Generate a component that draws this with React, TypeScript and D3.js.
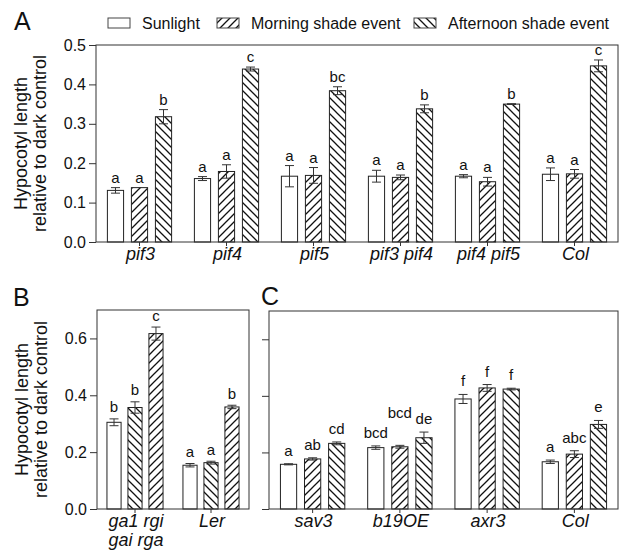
import * as React from 'react';
import * as d3 from 'd3';

const seriesNames = ["Sunlight", "Morning shade event", "Afternoon shade event"];

// panel A
const genotypesA = ["pif3", "pif4", "pif5", "pif3 pif4", "pif4 pif5", "Col"];
const sunlightA = [0.131, 0.161, 0.167, 0.167, 0.167, 0.172];
const sunlightErrA = [0.007, 0.005, 0.027, 0.015, 0.004, 0.016];
const morningA = [0.138, 0.179, 0.169, 0.164, 0.153, 0.173];
const morningErrA = [0.0, 0.017, 0.02, 0.006, 0.011, 0.011];
const afternoonA = [0.318, 0.439, 0.384, 0.338, 0.350, 0.447];
const afternoonErrA = [0.018, 0.005, 0.01, 0.01, 0.001, 0.015];
const lettersA = [["a", "a", "b"], ["a", "a", "c"], ["a", "a", "bc"], ["a", "a", "b"], ["a", "a", "b"], ["a", "a", "c"]];
const ticksA = [0, 0.1, 0.2, 0.3, 0.4, 0.5];

// panel B
const genotypesB = ["ga1 rgi\ngai rga", "Ler"];
const sunlightB = [0.305, 0.154];
const sunlightErrB = [0.012, 0.006];
const morningB = [0.357, 0.163];
const morningErrB = [0.02, 0.005];
const afternoonB = [0.617, 0.359];
const afternoonErrB = [0.023, 0.006];
const lettersB = [["b", "b", "c"], ["a", "a", "b"]];
const ticksB = [0, 0.2, 0.4, 0.6];

// panel C
const genotypesC = ["sav3", "b19OE", "axr3", "Col"];
const sunlightC = [0.158, 0.217, 0.389, 0.167];
const sunlightErrC = [0.002, 0.006, 0.016, 0.006];
const morningC = [0.177, 0.220, 0.428, 0.194];
const morningErrC = [0.004, 0.005, 0.012, 0.012];
const afternoonC = [0.232, 0.252, 0.424, 0.299];
const afternoonErrC = [0.005, 0.02, 0.003, 0.014];
const lettersC = [["a", "ab", "cd"], ["bcd", "bcd", "de"], ["f", "f", "f"], ["a", "abc", "e"]];

const FONT = "'Liberation Sans', Arial, Helvetica, sans-serif";
const INK = "#222";

function drawPanel(svg, o) {
  const g = svg.append("g");
  const x = d3.scaleBand().domain(o.groups).range([o.left, o.right]).padding(0);
  const y = d3.scaleLinear().domain([0, o.yMax]).range([o.bottom, o.top]);
  const bw = x.bandwidth();
  const step = bw * 0.276;
  const barW = bw * 0.186;

  // bars + error bars
  o.series.forEach((s, si) => {
    o.groups.forEach((grp, gi) => {
      const cx = x(grp) + bw / 2 + (si - 1) * step;
      const v = s.values[gi];
      const e = s.errs[gi];
      g.append("rect")
        .attr("x", cx - barW / 2)
        .attr("y", y(v))
        .attr("width", barW)
        .attr("height", y(0) - y(v))
        .attr("fill", o.fills[si])
        .attr("stroke", INK)
        .attr("stroke-width", 1);
      if (e > 0) {
        g.append("path")
          .attr("d", `M${cx - 4.5},${y(v + e)}H${cx + 4.5}M${cx},${y(v + e)}V${y(v - e)}M${cx - 4.5},${y(v - e)}H${cx + 4.5}`)
          .attr("stroke", "#333")
          .attr("fill", "none")
          .attr("stroke-width", 1);
      }
    });
  });

  // significance letters, nudged up when they collide
  o.groups.forEach((grp, gi) => {
    let prev = null;
    o.series.forEach((s, si) => {
      const cx = x(grp) + bw / 2 + (si - 1) * step;
      const txt = o.letters[gi][si];
      const w = txt.length * 7.6;
      let ly = y(s.values[gi] + s.errs[gi]) - o.gap;
      if (prev && prev.cx + prev.w / 2 + 2 > cx - w / 2 && Math.abs(prev.y - ly) < 14) {
        ly = prev.y - 20;
      }
      g.append("text")
        .attr("x", cx)
        .attr("y", ly)
        .attr("text-anchor", "middle")
        .style("font-family", FONT)
        .style("font-size", "15px")
        .style("fill", "#111")
        .text(txt);
      prev = { cx, w, y: ly };
    });
  });

  // frame
  g.append("rect")
    .attr("x", o.left).attr("y", o.top)
    .attr("width", o.right - o.left).attr("height", o.bottom - o.top)
    .attr("fill", "none").attr("stroke", "#333").attr("stroke-width", 1);

  // y axis
  const ya = g.append("g")
    .attr("transform", `translate(${o.left},0)`)
    .call(d3.axisLeft(y).tickValues(o.ticks).tickSize(7).tickPadding(3)
      .tickFormat(o.showLabels ? d3.format(".1f") : () => ""));
  ya.select(".domain").remove();
  ya.selectAll("line").attr("stroke", "#333");
  ya.selectAll("text").style("font-family", FONT).style("font-size", "16px").style("fill", "#111");

  // x ticks + category labels
  o.groups.forEach((grp) => {
    const cx = x(grp) + bw / 2;
    g.append("line")
      .attr("x1", cx).attr("x2", cx)
      .attr("y1", o.bottom).attr("y2", o.bottom + 4)
      .attr("stroke", "#333");
    const t = g.append("text")
      .attr("x", cx + 1)
      .attr("y", o.bottom + 18)
      .attr("text-anchor", "middle")
      .style("font-family", FONT)
      .style("font-size", "18px")
      .style("font-style", "italic")
      .style("fill", "#111");
    grp.split("\n").forEach((line, li) => {
      t.append("tspan")
        .attr("x", cx + 1)
        .attr("dy", li === 0 ? 0 : 19)
        .text(line);
    });
  });

  // y title
  if (o.showTitle) {
    const cy = (o.top + o.bottom) / 2;
    ["Hypocotyl length", "relative to dark control"].forEach((t, i) => {
      g.append("text")
        .attr("transform", `translate(${o.titleX + i * 19},${cy}) rotate(-90)`)
        .attr("text-anchor", "middle")
        .style("font-family", FONT)
        .style("font-size", "18px")
        .style("fill", "#111")
        .text(t);
    });
  }

  // panel letter
  g.append("text")
    .attr("x", o.tagX).attr("y", o.tagY)
    .style("font-family", FONT)
    .style("font-size", "25px")
    .style("fill", "#111")
    .text(o.tag);
}

export default function App() {
  const ref = React.useRef(null);

  React.useEffect(() => {
    const svg = d3.select(ref.current);
    svg.selectAll("*").remove();

    const defs = svg.append("defs");
    const pat = (id, d) => {
      const p = defs.append("pattern")
        .attr("id", id)
        .attr("patternUnits", "userSpaceOnUse")
        .attr("width", 8).attr("height", 8);
      p.append("rect").attr("width", 8).attr("height", 8).attr("fill", "white");
      p.append("path").attr("d", d).attr("stroke", "#111").attr("stroke-width", 1.3).attr("fill", "none");
    };
    pat("fwd", "M0,8L8,0M-2,2L2,-2M6,10L10,6");
    pat("back", "M0,0L8,8M-2,6L2,10M6,-2L10,2");

    // legend
    const legendX = [108, 217, 414];
    const legendFills = ["white", "url(#fwd)", "url(#back)"];
    seriesNames.forEach((name, i) => {
      svg.append("rect")
        .attr("x", legendX[i]).attr("y", 18)
        .attr("width", 22).attr("height", 10)
        .attr("fill", legendFills[i])
        .attr("stroke", "#444");
      svg.append("text")
        .attr("x", legendX[i] + 34).attr("y", 29)
        .style("font-family", FONT)
        .style("font-size", "16px")
        .style("fill", "#111")
        .text(name);
    });

    drawPanel(svg, {
      tag: "A", tagX: 14, tagY: 30,
      left: 96, right: 618, top: 45, bottom: 242, yMax: 0.5,
      ticks: ticksA, showLabels: true, showTitle: true, titleX: 27,
      groups: genotypesA,
      series: [
        { values: sunlightA, errs: sunlightErrA },
        { values: morningA, errs: morningErrA },
        { values: afternoonA, errs: afternoonErrA },
      ],
      fills: ["white", "url(#fwd)", "url(#back)"],
      letters: lettersA, gap: 5,
    });

    drawPanel(svg, {
      tag: "B", tagX: 13, tagY: 306,
      left: 97, right: 249, top: 310, bottom: 509, yMax: 0.7,
      ticks: ticksB, showLabels: true, showTitle: true, titleX: 28,
      groups: genotypesB,
      series: [
        { values: sunlightB, errs: sunlightErrB },
        { values: morningB, errs: morningErrB },
        { values: afternoonB, errs: afternoonErrB },
      ],
      fills: ["white", "url(#back)", "url(#fwd)"],
      letters: lettersB, gap: 6.5,
    });

    drawPanel(svg, {
      tag: "C", tagX: 261, tagY: 305,
      left: 269, right: 618, top: 311, bottom: 509, yMax: 0.7,
      ticks: ticksB, showLabels: false, showTitle: false, titleX: 0,
      groups: genotypesC,
      series: [
        { values: sunlightC, errs: sunlightErrC },
        { values: morningC, errs: morningErrC },
        { values: afternoonC, errs: afternoonErrC },
      ],
      fills: ["white", "url(#fwd)", "url(#back)"],
      letters: lettersC, gap: 8,
    });
  }, []);

  return (
    <div style={{ position: "absolute", left: 0, top: 0, background: "white" }}>
      <svg ref={ref} width={621} height={558} style={{ display: "block" }} />
    </div>
  );
}
